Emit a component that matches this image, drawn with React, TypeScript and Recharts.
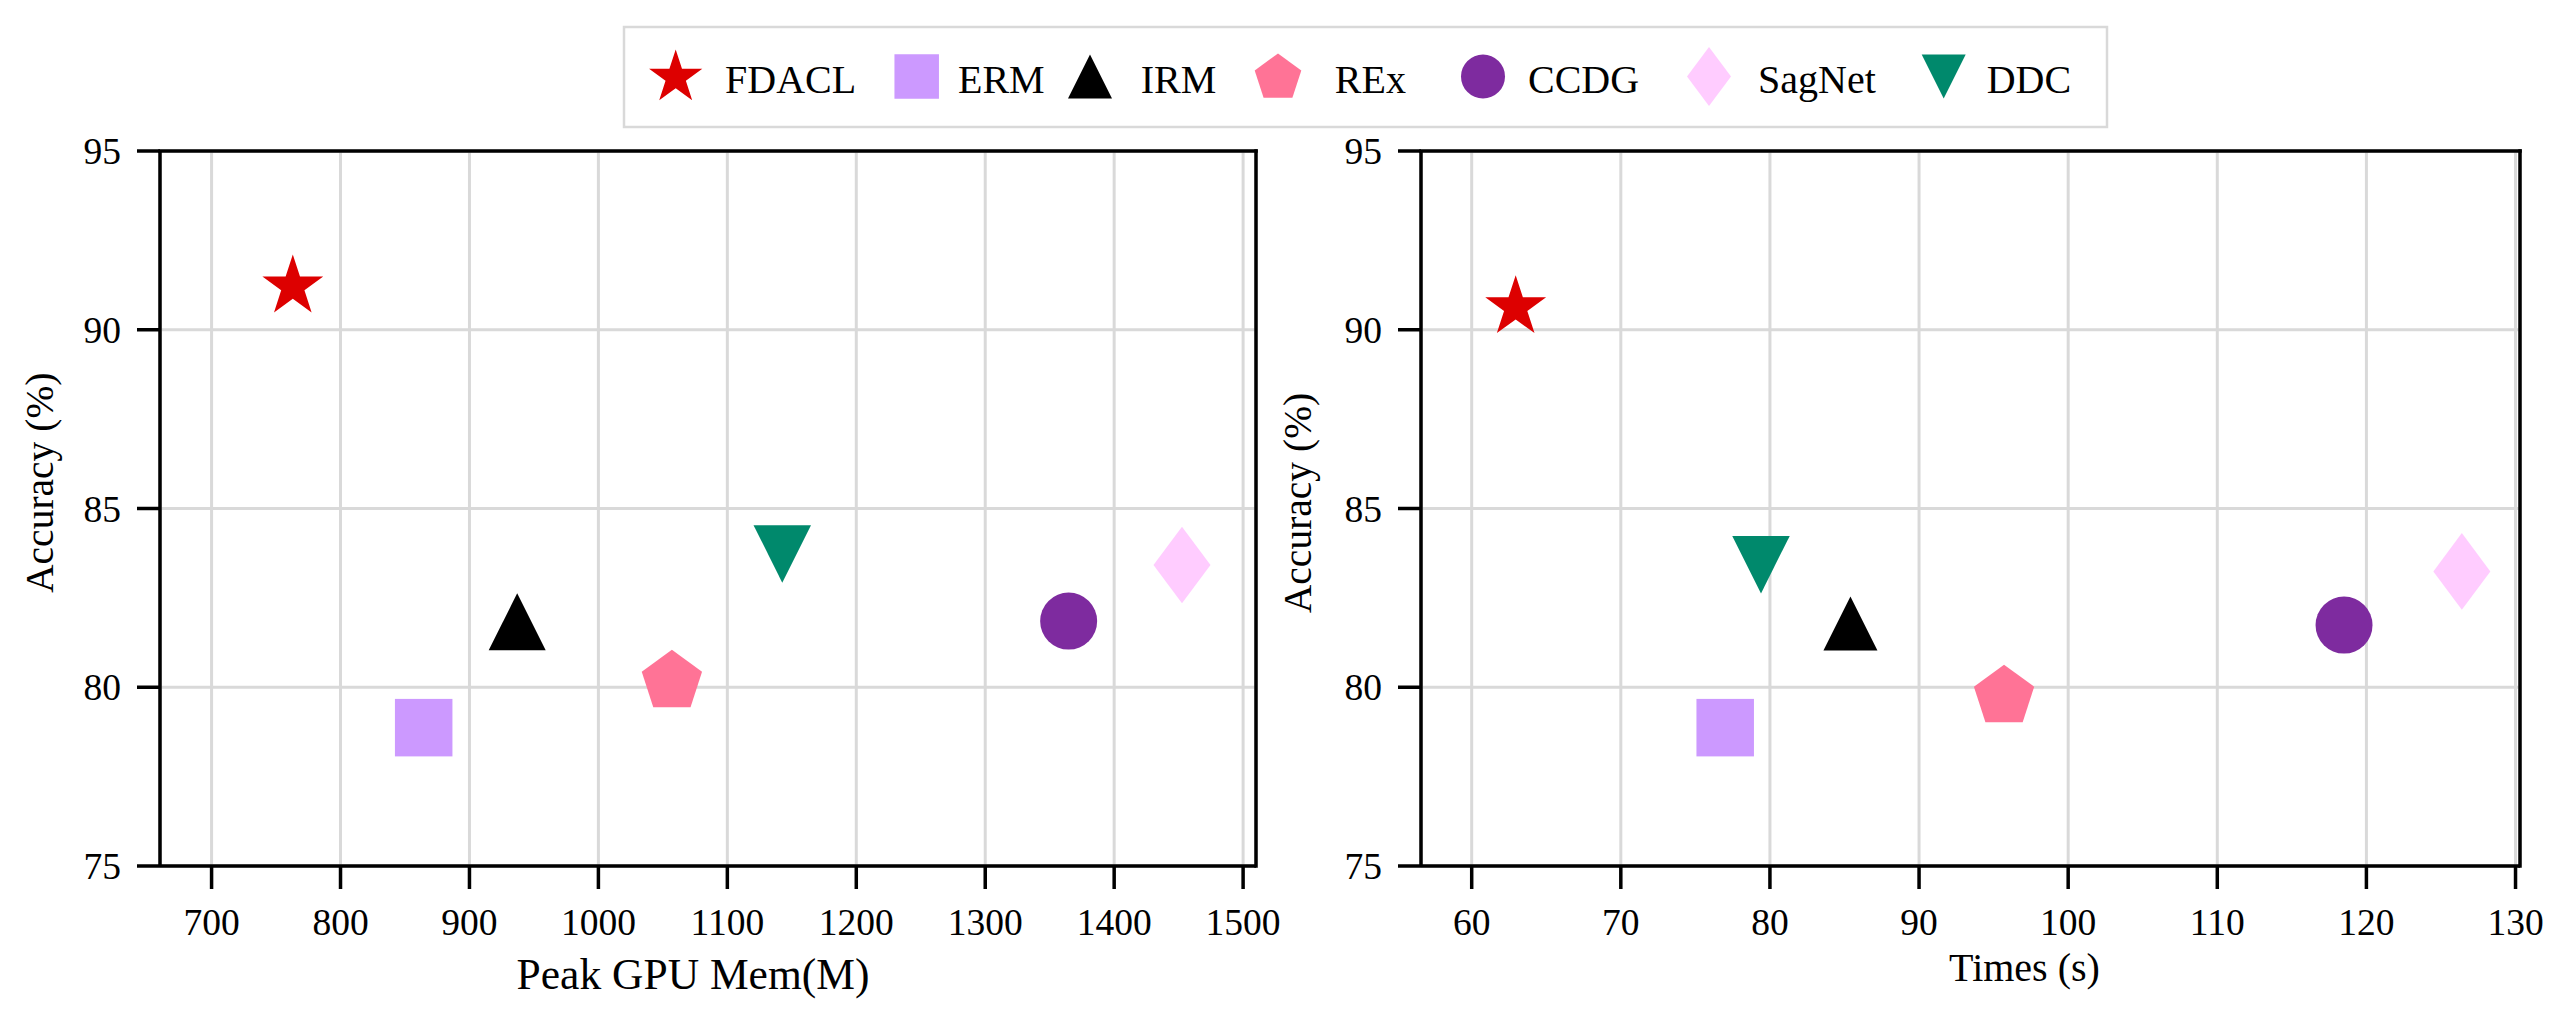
import React from 'react';
import {
  ScatterChart,
  Scatter,
  XAxis,
  YAxis,
  CartesianGrid,
  ReferenceLine,
  Label,
} from 'recharts';

// ---------------- data ----------------
const METHODS = ['FDACL', 'ERM', 'IRM', 'REx', 'CCDG', 'SagNet', 'DDC'];
const COLORS = ['#dd0000', '#cc99ff', '#000000', '#ff7396', '#7e2b9f', '#ffccff', '#00896c'];
const MARKERS = ['star', 'square', 'triangleUp', 'pentagon', 'circle', 'thinDiamond', 'triangleDown'];

const GPU_MEM = [763, 864.5, 937, 1057, 1364.7, 1452.6, 1142.6];
const ACC_MEM = [91.21, 78.87, 81.83, 80.16, 81.85, 83.42, 83.73];

const TIME_S = [62.95, 77.0, 85.4, 95.7, 118.5, 126.4, 79.4];
const ACC_TIME = [90.63, 78.87, 81.78, 79.74, 81.74, 83.24, 83.43];

const MEM_TICKS = [700, 800, 900, 1000, 1100, 1200, 1300, 1400, 1500];
const TIME_TICKS = [60, 70, 80, 90, 100, 110, 120, 130];
const ACC_TICKS = [75, 80, 85, 90, 95];

const MEM_DOMAIN = [660, 1510];
const TIME_DOMAIN = [56.6, 130.3];
const ACC_DOMAIN = [75, 95];

// ---------------- styles ----------------
const FONT = "'Liberation Serif', 'Times New Roman', Times, serif";
const SPINE = 3.5;
const GRID = '#d9d9d9';

type Size = { h: number; w?: number };

const PLOT_SIZES: Record<string, Size> = {
  star: { h: 32 },
  square: { h: 57.5 },
  triangleUp: { h: 57 },
  pentagon: { h: 31.7 },
  circle: { h: 28.5 },
  thinDiamond: { h: 76.7, w: 57 },
  triangleDown: { h: 57.5 },
};

const LEGEND_SIZES: Record<string, Size> = {
  star: { h: 28 },
  square: { h: 44.5 },
  triangleUp: { h: 44 },
  pentagon: { h: 24.5 },
  circle: { h: 22 },
  thinDiamond: { h: 58.8, w: 44 },
  triangleDown: { h: 44 },
};

function polyPoints(cx: number, cy: number, n: number, r: number, inner?: number) {
  const pts: string[] = [];
  const count = inner ? n * 2 : n;
  const step = (Math.PI * 2) / count;
  for (let i = 0; i < count; i++) {
    const a = -Math.PI / 2 + i * step;
    const rr = inner && i % 2 === 1 ? r * inner : r;
    pts.push(`${cx + rr * Math.cos(a)},${cy + rr * Math.sin(a)}`);
  }
  return pts.join(' ');
}

function Marker({ kind, cx, cy, size, color }: { kind: string; cx: number; cy: number; size: Size; color: string }) {
  const h = size.h;
  switch (kind) {
    case 'star':
      return <polygon points={polyPoints(cx, cy, 5, h, 0.381966)} fill={color} />;
    case 'pentagon':
      return <polygon points={polyPoints(cx, cy, 5, h)} fill={color} />;
    case 'circle':
      return <circle cx={cx} cy={cy} r={h} fill={color} />;
    case 'square':
      return <rect x={cx - h / 2} y={cy - h / 2} width={h} height={h} fill={color} />;
    case 'triangleUp':
      return (
        <polygon
          points={`${cx},${cy - h / 2} ${cx - h / 2},${cy + h / 2} ${cx + h / 2},${cy + h / 2}`}
          fill={color}
        />
      );
    case 'triangleDown':
      return (
        <polygon
          points={`${cx - h / 2},${cy - h / 2} ${cx + h / 2},${cy - h / 2} ${cx},${cy + h / 2}`}
          fill={color}
        />
      );
    case 'thinDiamond': {
      const w = size.w || h;
      return (
        <polygon
          points={`${cx},${cy - h / 2} ${cx + w / 2},${cy} ${cx},${cy + h / 2} ${cx - w / 2},${cy}`}
          fill={color}
        />
      );
    }
    default:
      return null;
  }
}

const textStyle = (size: number) => ({ fontFamily: FONT, fontSize: size });

const XTick = (props: any) => {
  const { x, y, payload } = props;
  return (
    <text x={x} y={y + 46} textAnchor="middle" style={textStyle(37.5)} fill="#000">
      {payload.value}
    </text>
  );
};

const YTick = (props: any) => {
  const { x, y, payload } = props;
  return (
    <text x={x - 16} y={y + 13} textAnchor="end" style={textStyle(37.5)} fill="#000">
      {payload.value}
    </text>
  );
};

type PanelProps = {
  left: number;
  width: number;
  xs: number[];
  ys: number[];
  xDomain: number[];
  xTicks: number[];
  xLabel: string;
  margin: { top: number; right: number; bottom: number; left: number };
  xLabelDx: number;
  xLabelDy: number;
  xLabelSize: number;
  yLabelDx: number;
  yLabelDy: number;
  sizeOverride?: Record<string, Size>;
};

function Panel(p: PanelProps) {
  const xLabelContent = (props: any) => {
    const vb = props.viewBox || {};
    const x = vb.x + vb.width / 2 + p.xLabelDx;
    const y = vb.y + p.xLabelDy;
    return (
      <text x={x} y={y} textAnchor="middle" style={textStyle(p.xLabelSize)} fill="#000">
        {p.xLabel}
      </text>
    );
  };
  const yLabelContent = (props: any) => {
    const vb = props.viewBox || {};
    const x = vb.x + p.yLabelDx;
    const y = vb.y + vb.height / 2 + p.yLabelDy;
    return (
      <text
        x={x}
        y={y}
        transform={`rotate(-90, ${x}, ${y})`}
        textAnchor="middle"
        style={textStyle(39.5)}
        fill="#000"
      >
        Accuracy (%)
      </text>
    );
  };

  return (
    <div style={{ position: 'absolute', left: p.left, top: 0 }}>
      <ScatterChart width={p.width} height={1024} margin={p.margin}>
        <CartesianGrid stroke={GRID} strokeWidth={3} />
        <XAxis
          type="number"
          dataKey="x"
          domain={p.xDomain}
          ticks={p.xTicks}
          allowDataOverflow
          height={100}
          tickSize={23}
          tickMargin={0}
          tick={<XTick />}
          tickLine={{ stroke: '#000', strokeWidth: SPINE }}
          axisLine={{ stroke: '#000', strokeWidth: SPINE }}
          interval={0}
        >
          <Label content={xLabelContent} />
        </XAxis>
        <YAxis
          type="number"
          dataKey="y"
          domain={ACC_DOMAIN}
          ticks={ACC_TICKS}
          allowDataOverflow
          width={100}
          tickSize={23}
          tickMargin={0}
          tick={<YTick />}
          tickLine={{ stroke: '#000', strokeWidth: SPINE }}
          axisLine={{ stroke: '#000', strokeWidth: SPINE }}
          interval={0}
        >
          <Label content={yLabelContent} />
        </YAxis>
        <ReferenceLine y={ACC_DOMAIN[1]} stroke="#000" strokeWidth={SPINE} strokeLinecap="square" />
        <ReferenceLine x={p.xDomain[1]} stroke="#000" strokeWidth={SPINE} strokeLinecap="square" />
        {METHODS.map((m, i) => {
          const kind = MARKERS[i];
          const size = (p.sizeOverride && p.sizeOverride[m]) || PLOT_SIZES[kind];
          return (
            <Scatter
              key={m}
              name={m}
              data={[{ x: p.xs[i], y: p.ys[i] }]}
              fill={COLORS[i]}
              isAnimationActive={false}
              shape={(sp: any) => (
                <Marker kind={kind} cx={sp.cx} cy={sp.cy} size={size} color={COLORS[i]} />
              )}
            />
          );
        })}
      </ScatterChart>
    </div>
  );
}

// legend layout: marker centre x, text start x
const LEGEND_LAYOUT = [
  [675.7, 725],
  [916.7, 958],
  [1090, 1140.7],
  [1278, 1334.8],
  [1483, 1528],
  [1709, 1758],
  [1943.7, 1986.7],
];

function LegendBox() {
  return (
    <svg
      width={2568}
      height={140}
      style={{ position: 'absolute', left: 0, top: 0, pointerEvents: 'none' }}
    >
      <rect x={624} y={27} width={1483} height={100} fill="#fff" stroke="#d9d9d9" strokeWidth={2.5} />
      {METHODS.map((m, i) => {
        const kind = MARKERS[i];
        const [mx, tx] = LEGEND_LAYOUT[i];
        const cy = kind === 'star' ? 77.5 : kind === 'pentagon' ? 78 : 76.5;
        return (
          <g key={m}>
            <Marker kind={kind} cx={mx} cy={cy} size={LEGEND_SIZES[kind]} color={COLORS[i]} />
            <text x={tx} y={93.3} style={textStyle(40)} fill="#000">
              {m}
            </text>
          </g>
        );
      })}
    </svg>
  );
}

export default function App() {
  return (
    <div
      style={{
        position: 'absolute',
        left: 0,
        top: 0,
        width: 2568,
        height: 1024,
        background: '#fff',
        overflow: 'hidden',
        fontFamily: FONT,
      }}
    >
      <Panel
        left={0}
        width={1284}
        xs={GPU_MEM}
        ys={ACC_MEM}
        xDomain={MEM_DOMAIN}
        xTicks={MEM_TICKS}
        xLabel="Peak GPU Mem(M)"
        margin={{ top: 151, right: 28, bottom: 58, left: 60 }}
        xLabelDx={-15}
        xLabelDy={123}
        xLabelSize={43.5}
        yLabelDx={-7}
        yLabelDy={-25.75}
      />
      <Panel
        left={1264}
        width={1304}
        xs={TIME_S}
        ys={ACC_TIME}
        xDomain={TIME_DOMAIN}
        xTicks={TIME_TICKS}
        xLabel="Times (s)"
        margin={{ top: 151, right: 48, bottom: 58, left: 57 }}
        xLabelDx={54}
        xLabelDy={115}
        xLabelSize={40}
        yLabelDx={-10}
        yLabelDy={-5.5}
        sizeOverride={{ IRM: { h: 54 } }}
      />
      <LegendBox />
    </div>
  );
}
